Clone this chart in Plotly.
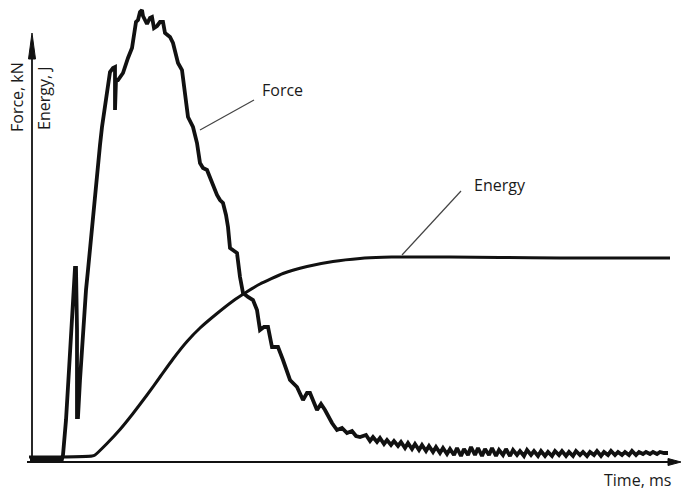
import plotly.graph_objects as go

# Impact test record: contact force and absorbed energy versus time
force_t = [-0.2, 1.3, 3.0, 3.1, 3.4, 3.7, 4.0, 4.2, 4.3, 4.4, 4.5, 4.5, 4.6, 4.8, 5.1, 5.4,
           5.6, 5.8, 6.0, 6.3, 6.5, 6.8, 7.0, 7.3, 7.5, 7.8, 8.1, 8.3, 8.3, 8.4, 8.6, 9.1,
           9.6, 10.0, 10.2, 10.4, 10.6, 10.8, 11.0, 11.1, 11.3, 11.5, 11.8, 12.0, 12.2, 12.5,
           12.8, 13.1, 13.3, 13.6, 13.8, 14.1, 14.3, 14.6, 15.0, 15.3, 15.6, 16.1, 16.5, 16.8,
           17.1, 17.5, 17.8, 18.1, 18.5, 18.8, 19.1, 19.4, 19.6, 19.8, 20.1, 20.5, 20.8, 21.1,
           21.6, 22.1, 22.5, 22.8, 23.2, 23.6, 24.0, 24.6, 25.1, 25.5, 25.8, 26.5, 27.1, 27.5,
           27.8, 28.5, 28.9, 29.3, 30.0, 30.5, 31.0, 31.5, 32.0, 32.4, 32.8,
           33.4, 33.8, 34.1, 34.5, 34.8, 35.2, 35.5, 35.9, 36.2, 36.6, 36.9, 37.3, 37.6, 38.0,
           38.3, 38.7, 39.0, 39.4, 39.7, 40.1, 40.4, 40.8, 41.1, 41.5, 41.8, 42.2, 42.5, 42.9,
           43.2, 43.6, 43.9, 44.3, 44.6, 45.0, 45.3, 45.7, 46.0, 46.4, 46.7, 47.1, 47.4, 47.8,
           48.1, 48.5, 48.8, 49.2, 49.5, 49.9, 50.2, 50.6, 50.9, 51.3, 51.6, 52.0, 52.3, 52.7,
           53.0, 53.4, 53.7, 54.1, 54.4, 54.8, 55.1, 55.5, 55.8, 56.2, 56.5, 56.9, 57.2, 57.6,
           57.9, 58.3, 58.6, 59.0, 59.3, 59.7, 60.0, 60.4, 60.7, 61.1, 61.4, 61.8, 62.1, 62.5,
           62.8, 63.2, 63.6]
force_kn = [0.2, 0.2, 0.2, 0.6, 4.1, 9.1, 14.1, 18.1, 19.3, 19.3, 13.1, 4.4, 4.4, 8.1, 13.1, 17.1,
            19.1, 21.3, 23.4, 26.6, 28.8, 31.6, 33.4, 35.6, 37.1, 38.9, 39.3, 39.4, 35.1, 38.1, 38.1, 38.8,
            40.3, 41.3, 42.6, 43.9, 44.1, 44.9, 45.1, 44.5, 44.1, 43.7, 44.3, 44.4, 43.3, 43.5,
            43.9, 43.9, 42.8, 42.6, 42.4, 41.8, 40.9, 39.8, 39.1, 36.4, 34.4, 33.4, 31.8, 29.8,
            29.3, 29.1, 28.3, 27.4, 26.6, 26.1, 25.8, 24.6, 23.4, 21.3, 21.1, 20.8, 18.4, 16.8,
            16.4, 16.1, 15.1, 13.1, 13.4, 13.4, 11.4, 11.4, 10.1, 8.9, 8.1, 7.4, 6.1, 6.8,
            6.8, 5.1, 5.7, 5.1, 3.8, 3.1, 3.3, 2.8, 3.0, 2.5, 2.4,
            2.6, 2.0, 2.4, 1.9, 2.3, 1.7, 2.1, 1.6, 2.0, 1.5, 1.9, 1.3, 1.8, 1.2,
            1.7, 1.1, 1.6, 1.0, 1.5, 0.9, 1.4, 0.8, 1.3, 0.7, 1.2, 0.6, 1.3, 0.5,
            1.2, 0.6, 1.4, 0.6, 1.3, 0.5, 1.2, 0.6, 1.3, 0.5, 1.1, 0.6, 1.2, 0.5,
            1.1, 0.6, 1.0, 0.5, 1.1, 0.6, 1.0, 0.5, 1.0, 0.5, 0.9, 0.5, 1.0, 0.6,
            1.0, 0.5, 0.9, 0.5, 1.0, 0.6, 0.9, 0.5, 0.9, 0.6, 1.0, 0.5, 0.9, 0.6,
            1.0, 0.6, 0.9, 0.6, 0.9, 0.6, 1.0, 0.6, 0.9, 0.7, 0.9, 0.7, 0.9, 0.7,
            0.9, 0.8, 0.8]

energy_t = [-0.3, 2.8, 6.0, 6.3, 7.5, 8.8, 10.1, 11.5, 12.8, 14.1, 15.5, 16.8, 18.5, 20.1,
            21.3, 22.8, 25.1, 27.5, 30.1, 32.8, 35.1, 36.8, 41.8, 46.8, 52.8, 58.8, 63.8]
energy_j = [0.4, 0.4, 0.5, 0.6, 1.75, 3.15, 4.75, 6.6, 8.4, 10.2, 11.95, 13.3, 14.75, 16.0,
            16.8, 17.7, 18.75, 19.45, 19.95, 20.25, 20.37, 20.4, 20.4, 20.35, 20.3, 20.3, 20.3]

# Axis extents (ms, kN/J)
X_MIN, X_MAX = -3.2, 65.0
Y_MIN, Y_MAX = -3.0, 46.1
X_AXIS_END, X_ARROW_TIP = 63.8, 64.9
Y_AXIS_END, Y_ARROW_TIP = 40.6, 42.8
INK = "#111111"
FONT = "Open Sans"

fig = go.Figure()
fig.add_trace(go.Scatter(x=energy_t, y=energy_j, mode="lines", name="Energy",
                         line=dict(color=INK, width=3, shape="spline", smoothing=0.4)))
fig.add_trace(go.Scatter(x=force_t, y=force_kn, mode="lines", name="Force",
                         line=dict(color=INK, width=3.8)))

# Axes drawn as arrows
shapes = [
    dict(type="line", x0=-0.5, y0=-0.1, x1=X_AXIS_END, y1=-0.1, line=dict(color=INK, width=2)),
    dict(type="line", x0=0, y0=-0.1, x1=0, y1=Y_AXIS_END, line=dict(color=INK, width=1.8)),
    dict(type="path",
         path=f"M {X_AXIS_END - 0.2},-0.45 L {X_ARROW_TIP},-0.1 L {X_AXIS_END - 0.2},0.25 Z",
         fillcolor=INK, line=dict(color=INK, width=1)),
    dict(type="path",
         path=f"M -0.35,{Y_AXIS_END - 0.4} L 0,{Y_ARROW_TIP} L 0.35,{Y_AXIS_END - 0.4} Z",
         fillcolor=INK, line=dict(color=INK, width=1)),
    # leader lines for the curve labels
    dict(type="line", x0=16.8, y0=33.1, x1=22.2, y1=36.1, line=dict(color="#444444", width=1.2)),
    dict(type="line", x0=37.0, y0=20.6, x1=42.9, y1=27.0, line=dict(color="#444444", width=1.2)),
]

txt = dict(family=FONT, size=16, color="#1a1a1a")
annotations = [
    dict(x=25.0, y=37.1, text="Force", showarrow=False, font=txt),
    dict(x=46.8, y=27.6, text="Energy", showarrow=False, font=txt),
    dict(x=60.5, y=-1.9, text="Time, ms", showarrow=False, font=txt),
    dict(x=-1.5, y=36.4, text="Force, kN", showarrow=False, textangle=-90, font=txt),
    dict(x=1.2, y=36.3, text="Energy, J", showarrow=False, textangle=-90, font=txt),
]

fig.update_layout(
    width=682, height=491,
    margin=dict(l=0, r=0, t=0, b=0),
    paper_bgcolor="white", plot_bgcolor="white",
    showlegend=False,
    shapes=shapes, annotations=annotations,
    xaxis=dict(range=[X_MIN, X_MAX], visible=False, showgrid=False, zeroline=False),
    yaxis=dict(range=[Y_MIN, Y_MAX], visible=False, showgrid=False, zeroline=False),
)

fig.write_html("out.html")
